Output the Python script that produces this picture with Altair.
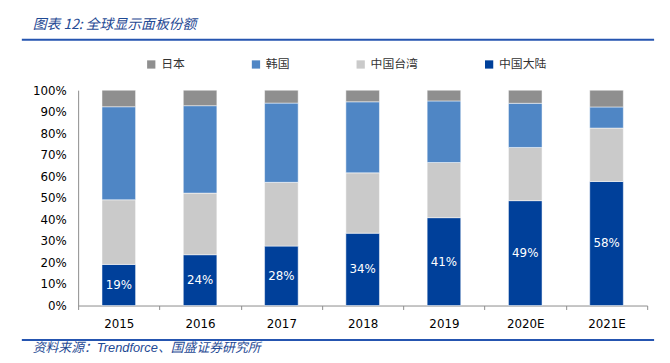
import altair as alt
import pandas as pd

years = ["2015", "2016", "2017", "2018", "2019", "2020E", "2021E"]
regions = ["日本", "韩国", "中国台湾", "中国大陆"]
colors = ["#8F8F8F", "#4F86C5", "#CACACA", "#00409A"]

mainland = [0.191, 0.236, 0.276, 0.336, 0.408, 0.487, 0.576]
taiwan = [0.300, 0.286, 0.296, 0.280, 0.256, 0.247, 0.248]
korea = [0.432, 0.406, 0.368, 0.330, 0.286, 0.205, 0.098]
japan = [0.077, 0.072, 0.060, 0.054, 0.050, 0.061, 0.078]
y_ticks = [0.0, 0.1, 0.2, 0.3, 0.4, 0.5, 0.6, 0.7, 0.8, 0.9, 1.0]

title_text = "图表 12:  全球显示面板份额"
source_text = "资料来源：Trendforce、国盛证券研究所"

rows = []
for i, yr in enumerate(years):
    for name, vals, o in [("中国大陆", mainland, 0), ("中国台湾", taiwan, 1),
                          ("韩国", korea, 2), ("日本", japan, 3)]:
        rows.append({"year": yr, "region": name, "share": vals[i], "order": o})
df = pd.DataFrame(rows)

axis_font = "DejaVu Sans"

x_axis = alt.Axis(labelAngle=0, labelFont=axis_font, labelFontSize=12,
                  labelColor="#000", domainColor="#8c8c8c", tickColor="#8c8c8c",
                  tickSize=4, tickBand="extent", labelPadding=9)
y_axis = alt.Axis(format=".0%", values=y_ticks, grid=False,
                  ticks=False, tickSize=0, labelPadding=12, domainColor="#8c8c8c",
                  labelOverlap=False, labelFlush=False,
                  labelFont=axis_font, labelFontSize=12, labelColor="#000")
y_scale = alt.Scale(domain=[0, 1], nice=False)
x_scale = alt.Scale(paddingInner=0, paddingOuter=0)

bars = alt.Chart(df).mark_bar(size=34, stroke="white", strokeWidth=0.5).encode(
    x=alt.X("year:N", sort=years, title=None, scale=x_scale, axis=x_axis),
    y=alt.Y("share:Q", stack="zero", title=None, scale=y_scale, axis=y_axis),
    color=alt.Color("region:N", scale=alt.Scale(domain=regions, range=colors),
                    legend=alt.Legend(title=None, orient="none", legendX=68, legendY=-32,
                                      direction="horizontal", symbolType="square",
                                      symbolSize=70, symbolStrokeWidth=0,
                                      labelFont="Noto Sans CJK SC", labelFontSize=12,
                                      labelColor="#333", columnPadding=65, labelOffset=4)),
    order=alt.Order("order:Q", sort="ascending"),
)

labels = alt.Chart(df).transform_filter(
    alt.datum.region == "中国大陆"
).transform_calculate(mid="datum.share / 2").mark_text(
    color="white", font=axis_font, fontSize=12, baseline="middle"
).encode(
    x=alt.X("year:N", sort=years, title=None, scale=x_scale, axis=x_axis),
    y=alt.Y("mid:Q", title=None, scale=y_scale, axis=y_axis),
    text=alt.Text("share:Q", format=".0%"),
)

deco = pd.DataFrame({"k": [0]})
title = alt.Chart(deco).mark_text(
    text=title_text, align="left", baseline="middle", font="Noto Sans CJK SC",
    fontSize=14, fontStyle="italic", color="#1F4A94"
).encode(x=alt.value(-46), y=alt.value(-66))

line_top = alt.Chart(deco).mark_rule(color="#2555B0", strokeWidth=2).encode(
    x=alt.value(-57), x2=alt.value(583), y=alt.value(-51))
line_bot = alt.Chart(deco).mark_rule(color="#2555B0", strokeWidth=2).encode(
    x=alt.value(-57), x2=alt.value(583), y=alt.value(253))

source = alt.Chart(deco).mark_text(
    text=source_text, align="left", baseline="middle",
    font="Liberation Sans, Noto Sans CJK SC", fontSize=13, fontStyle="italic",
    color="#1F4A94"
).encode(x=alt.value(-46), y=alt.value(261))

chart = alt.layer(bars, labels, title, line_top, line_bot, source).properties(
    width=576, height=218,
    autosize=alt.AutoSizeParams(type="none"),
    padding={"left": 71, "top": 81, "right": 15, "bottom": 56},
).configure_view(stroke=None)

chart.save("out.html", embed_options={"renderer": "svg", "actions": False})
